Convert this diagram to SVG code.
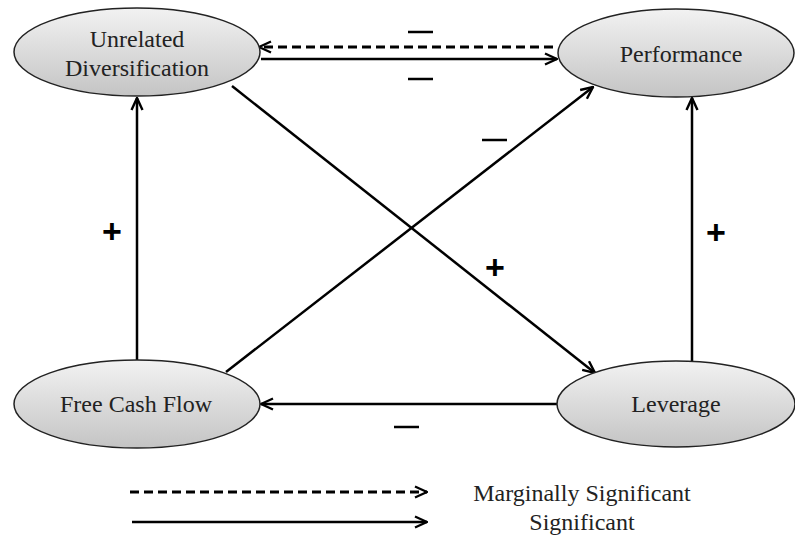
<svg xmlns="http://www.w3.org/2000/svg" width="795" height="539" viewBox="0 0 795 539">
<defs>
<linearGradient id="g" x1="0" y1="0" x2="0" y2="1">
<stop offset="0" stop-color="#f2f2f2"/>
<stop offset="1" stop-color="#c4c4c4"/>
</linearGradient>
<marker id="arr" viewBox="0 0 14 14" refX="13" refY="7" markerWidth="14" markerHeight="14" markerUnits="userSpaceOnUse" orient="auto">
<path d="M1,1.5 L13,7 L1,12.5" fill="none" stroke="#000" stroke-width="2.4"/>
</marker>
</defs>
<style>
.node ellipse{fill:url(#g);stroke:#222;stroke-width:1.5}
.node text{font-family:"Liberation Serif","Times New Roman",serif;font-size:24px;fill:#222;text-anchor:middle}
.c{stroke:#000;stroke-width:2.5;fill:none;marker-end:url(#arr)}
.d{stroke-dasharray:9,5;stroke-width:3}
.sign{font-family:"Liberation Sans",Arial,sans-serif;font-size:34px;font-weight:bold;text-anchor:middle;fill:#000}
.mn{stroke:#000;stroke-width:2.5}
.leg{font-family:"Liberation Serif","Times New Roman",serif;font-size:24px;fill:#222;text-anchor:middle}
</style>
<rect width="795" height="539" fill="#fff"/>
<g id="connectors">
<line class="c d" x1="553" y1="47" x2="259" y2="47"/>
<line class="c" x1="261" y1="59" x2="557" y2="59"/>
<line class="c" x1="232" y1="86" x2="595" y2="373"/>
<line class="c" x1="226" y1="372" x2="593" y2="87"/>
<line class="c" x1="137" y1="360" x2="137" y2="98"/>
<line class="c" x1="692" y1="361" x2="692" y2="98"/>
<line class="c" x1="557" y1="404" x2="261" y2="404"/>
</g>
<g id="labels">
<line class="mn" x1="408" y1="32" x2="433" y2="32"/>
<line class="mn" x1="408" y1="79" x2="433" y2="79"/>
<line class="mn" x1="482" y1="140" x2="507" y2="140"/>
<line class="mn" x1="394" y1="427" x2="419" y2="427"/>
<text class="sign" x="112" y="243">+</text>
<text class="sign" x="716" y="244">+</text>
<text class="sign" x="495" y="279">+</text>
</g>
<g id="n_unrelated" class="node">
<ellipse cx="137" cy="52" rx="123" ry="44"/>
<text x="137" y="47">Unrelated</text>
<text x="137" y="76">Diversification</text>
</g>
<g id="n_performance" class="node">
<ellipse cx="676" cy="53" rx="118" ry="44"/>
<text x="681" y="62">Performance</text>
</g>
<g id="n_fcf" class="node">
<ellipse cx="137" cy="404" rx="123" ry="44"/>
<text x="136" y="412">Free Cash Flow</text>
</g>
<g id="n_leverage" class="node">
<ellipse cx="676" cy="404" rx="119" ry="43"/>
<text x="676" y="412">Leverage</text>
</g>
<g id="legend">
<line class="c d" x1="130" y1="492" x2="427" y2="492"/>
<line class="c" x1="132" y1="522" x2="427" y2="522"/>
<text class="leg" x="582" y="501">Marginally Significant</text>
<text class="leg" x="582" y="530">Significant</text>
</g>
</svg>
